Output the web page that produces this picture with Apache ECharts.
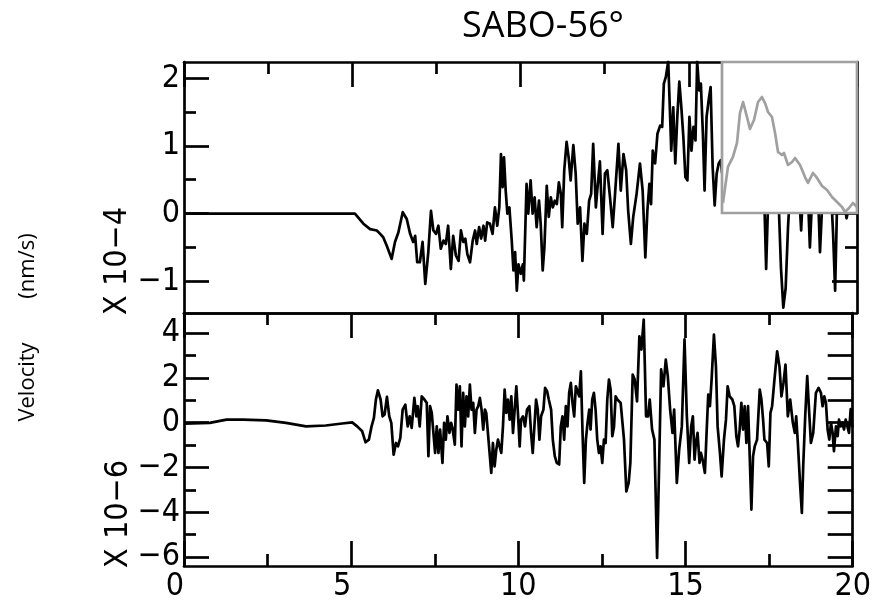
<!DOCTYPE html>
<html><head><meta charset="utf-8">
<script src="https://cdn.jsdelivr.net/npm/echarts@6/dist/echarts.min.js"></script>
<style>html,body{margin:0;padding:0;background:#fff}#c{width:874px;height:605px}</style>
</head><body><div id="c"></div>
<script>
const titleText = 'SABO-56°';
const yTitleWord = 'Velocity';
const yTitleUnit = '(nm/s)';
const topScale = 'X 10−4';
const botScale = 'X 10−6';
const xRange = [0, 20];
const topRange = [-1.47, 2.24];
const botRange = [-6.4, 4.89];
const topMajor = [-1, 0, 1, 2];
const topMinor = [-0.5, 0.5, 1.5];
const botMajor = [-6, -4, -2, 0, 2, 4];
const botMinor = [-5, -3, -1, 1, 3];
const botRightTicks = [-6, -5, -4, -3, -2, -1, 0, 1, 2, 3, 4];

const topTrace = [[0,0],[1,0],[2,0],[3,0],[4,0],[5.08,0],
[5.33,-0.15],[5.53,-0.23],[5.73,-0.25],[5.83,-0.30],[5.92,-0.35],[6.02,-0.47],[6.17,-0.67],[6.27,-0.42],[6.37,-0.28],
[6.50,0.02],[6.62,-0.08],[6.72,-0.30],[6.81,-0.42],[6.87,-0.33],[6.93,-0.72],[7.01,-0.72],[7.09,-0.42],[7.17,-1.04],[7.26,-0.57],
[7.34,0.04],[7.41,-0.25],[7.49,-0.30],[7.56,-0.18],[7.63,-0.52],[7.71,-0.40],[7.78,-0.45],[7.85,-0.18],[7.93,-0.82],[8.00,-0.33],
[8.08,-0.62],[8.16,-0.70],[8.23,-0.25],[8.30,-0.42],[8.36,-0.37],[8.42,-0.60],[8.50,-0.72],[8.58,-0.40],[8.65,-0.25],[8.70,-0.45],
[8.77,-0.20],[8.83,-0.37],[8.90,-0.18],[8.95,-0.40],[9.01,-0.13],[9.09,-0.15],[9.17,-0.30],[9.24,0.09],[9.31,-0.18],[9.37,0.09],
[9.42,0.88],[9.47,0.39],[9.51,0.83],[9.56,0.34],[9.61,0],[9.67,0.09],[9.74,-0.40],[9.79,-0.84],[9.84,-0.57],[9.89,-1.14],
[9.94,-0.75],[10.01,-0.89],[10.07,-0.75],[10.10,-0.99],[10.18,0.44],[10.23,0],[10.30,0.49],[10.36,0],[10.42,0.24],[10.48,-0.20],
[10.55,0.19],[10.60,-0.15],[10.66,-0.84],[10.71,-0.50],[10.78,0.41],[10.84,-0.05],[10.90,0.24],[10.96,0.09],[11.02,0.19],[11.08,0.14],
[11.14,0.46],[11.20,0.29],[11.24,-0.20],[11.30,0.64],[11.37,1.06],[11.43,0.83],[11.49,0.49],[11.57,1.01],[11.64,0.59],[11.70,-0.15],
[11.77,0.09],[11.84,-0.70],[11.90,-0.15],[11.97,-0.30],[12.04,0.19],[12.10,0.29],[12.16,1.03],[12.24,0.09],[12.29,0.39],[12.36,0.77],
[12.44,-0.30],[12.51,0.59],[12.58,0.64],[12.66,0.24],[12.74,-0.20],[12.81,0.29],[12.91,1.03],[12.98,0.34],[13.06,0.88],[13.14,0.64],
[13.20,0.04],[13.28,-0.45],[13.35,-0.05],[13.45,0.29],[13.55,0.74],[13.63,0.34],[13.71,-0.65],[13.77,0.04],[13.83,0.44],[13.88,0.14],
[13.93,0.93],[14.00,0.74],[14.07,1.18],[14.15,1.30],[14.21,1.28],[14.26,1.92],[14.32,2.02],[14.39,2.25],[14.44,1.53],[14.48,0.93],
[14.54,1.57],[14.60,0.74],[14.66,1.43],[14.72,1.95],[14.78,1.57],[14.84,1.13],[14.90,0.54],[14.96,0.49],[15.02,1.43],[15.08,0.93],
[15.14,1.28],[15.20,1.08],[15.25,2.25],[15.31,1.82],[15.36,1.92],[15.42,1.18],[15.47,0.34],[15.53,1.43],[15.59,1.67],[15.65,1.87],
[15.71,0.69],[15.77,0.12],[15.83,0.59],[15.89,0.74],[15.95,0.79],
[15.99,0.6],[16.11,1.2],[16.23,0.5],[16.35,1.5],[16.46,0.8],[16.58,1.3],[16.70,0.4],[16.82,1.0],[16.94,0.6],[17.06,0.9],
[17.18,0.2],[17.24,0.3],[17.30,-0.82],[17.36,0.2],[17.47,0.8],[17.59,0.5],[17.68,0.05],[17.74,-0.8],[17.81,-1.39],[17.88,-1.1],
[17.95,-0.2],[18.04,0.6],[18.16,0.9],[18.28,0.3],[18.34,-0.25],[18.40,0.4],[18.51,0.7],[18.60,-0.5],[18.69,0.5],[18.81,0.8],
[18.90,-0.57],[18.99,0.4],[19.11,0.9],[19.23,0.3],[19.29,-0.3],[19.35,-1.14],[19.41,0.2],[19.52,0.6],[19.61,0.2],[19.69,-0.07],
[19.76,0.1],[19.88,0.05],[20,0]];

const botTrace = [[0,-0.05],[0.77,-0.01],[1.27,0.13],[1.76,0.13],[2.46,0.10],[3.05,-0.01],[3.65,-0.17],[4.24,-0.13],[4.73,-0.04],[5.03,0.01],
[5.18,-0.17],[5.33,-0.39],[5.43,-0.88],[5.53,-0.76],[5.61,-0.17],[5.68,0.21],[5.74,1.03],[5.80,1.44],[5.88,1.03],[5.94,0.28],
[6.00,0.36],[6.07,1.15],[6.14,0.28],[6.20,-0.01],[6.27,-1.43],[6.34,-0.91],[6.40,-1.06],[6.47,-0.68],[6.54,0.58],[6.62,0.80],
[6.69,-0.17],[6.75,0.28],[6.81,-0.24],[6.89,1.10],[6.95,0.28],[6.99,0.73],[7.05,-0.17],[7.11,1.17],[7.19,1.03],[7.26,0.88],
[7.31,-1.50],[7.36,0.73],[7.41,0.43],[7.46,-0.46],[7.51,-1.35],[7.56,-0.17],[7.61,-1.35],[7.66,-0.31],[7.73,-1.80],[7.78,-0.01],
[7.83,-0.76],[7.88,0.28],[7.94,-0.46],[7.99,-0.01],[8.03,-0.24],[8.10,-0.98],[8.15,1.70],[8.20,0.58],[8.25,1.62],[8.30,-1.06],
[8.35,1.33],[8.40,-0.17],[8.45,1.17],[8.50,0.28],[8.55,1.70],[8.60,0.58],[8.65,0.88],[8.70,-0.46],[8.75,0.58],[8.80,0.73],
[8.85,1.10],[8.90,0.58],[8.95,-0.31],[9.00,0.58],[9.04,0.43],[9.09,-0.46],[9.14,-0.46],[9.19,-2.25],[9.24,-0.91],[9.29,-1.95],
[9.34,-1.21],[9.39,-0.76],[9.44,-1.06],[9.49,-1.35],[9.54,-0.17],[9.59,1.47],[9.64,0.43],[9.69,1.03],[9.74,0.13],[9.79,1.17],
[9.84,-0.46],[9.89,0.58],[9.94,1.62],[9.99,0.36],[10.04,-1.06],[10.08,0.13],[10.14,0.28],[10.20,-0.17],[10.26,0.58],[10.33,0.73],
[10.38,-0.46],[10.43,-1.35],[10.48,-0.17],[10.53,1.03],[10.58,0.58],[10.63,-0.76],[10.68,0.28],[10.75,0.58],[10.80,1.55],[10.86,1.40],
[10.91,1.03],[10.98,0.58],[11.03,-0.76],[11.09,-1.50],[11.15,-1.80],[11.22,-1.87],[11.27,-0.17],[11.32,0.28],[11.37,-0.76],[11.42,0.73],
[11.47,-0.17],[11.52,1.33],[11.57,1.77],[11.62,0.88],[11.67,0.28],[11.72,1.62],[11.77,1.70],[11.82,1.17],[11.87,2.29],[11.92,-0.46],
[11.97,-2.69],[12.02,-0.76],[12.07,-0.01],[12.12,0.58],[12.16,-0.31],[12.21,1.03],[12.26,1.33],[12.31,0.58],[12.36,-0.76],[12.41,-1.35],
[12.46,-1.06],[12.51,-1.80],[12.56,-0.76],[12.61,-0.91],[12.66,1.03],[12.71,1.92],[12.76,1.47],[12.81,-0.61],[12.86,-0.20],[12.91,1.17],
[12.96,1.03],[13.06,0.88],[13.16,-0.76],[13.23,-3.07],[13.30,-2.69],[13.35,-1.80],[13.42,2.14],[13.48,1.92],[13.55,0.95],[13.62,3.85],
[13.68,3.26],[13.75,4.60],[13.82,0.28],[13.88,0.28],[13.93,1.03],[14.00,-0.31],[14.07,-0.76],[14.15,-6.04],[14.21,-1.95],[14.27,2.37],
[14.34,1.62],[14.41,2.81],[14.47,2.07],[14.54,0.58],[14.61,-0.46],[14.66,0.58],[14.74,-2.69],[14.81,-1.21],[14.89,-0.17],[14.97,3.71],
[15.04,0.28],[15.11,-1.80],[15.17,-0.17],[15.22,0.28],[15.27,-1.65],[15.31,-0.91],[15.36,-0.46],[15.42,-1.80],[15.46,-1.35],[15.51,-1.65],
[15.58,-2.25],[15.63,-0.46],[15.68,1.25],[15.73,0.73],[15.78,1.92],[15.85,3.93],[15.91,2.51],[15.96,-0.17],[16.03,-1.35],[16.08,-2.40],
[16.15,-0.76],[16.21,0.13],[16.26,1.62],[16.32,1.17],[16.40,1.03],[16.46,0.73],[16.52,-0.61],[16.57,-1.06],[16.62,-0.31],[16.67,0.88],
[16.72,-0.31],[16.77,0.73],[16.82,-0.91],[16.87,0.73],[16.92,-1.50],[16.97,-3.88],[17.02,-1.50],[17.07,-1.06],[17.14,-0.76],[17.22,1.47],
[17.27,1.03],[17.32,0.13],[17.36,-0.76],[17.44,-0.91],[17.49,-1.95],[17.54,0.43],[17.59,0.73],[17.66,1.92],[17.74,3.18],[17.81,2.51],
[17.87,1.17],[17.93,1.77],[17.99,2.59],[18.06,0.28],[18.13,1.03],[18.21,-0.01],[18.27,-0.46],[18.31,0.28],[18.36,-0.91],[18.43,-2.84],
[18.48,-4.03],[18.52,-1.95],[18.58,0.28],[18.64,2.07],[18.70,0.43],[18.75,-0.91],[18.82,-0.46],[18.90,1.33],[18.98,1.55],[19.05,1.33],
[19.10,0.73],[19.15,1.17],[19.20,0.88],[19.25,-0.31],[19.30,-0.76],[19.35,-0.01],[19.40,-0.46],[19.44,-1.28],[19.50,-0.17],[19.55,-0.61],
[19.59,0.13],[19.64,-0.17],[19.69,-0.01],[19.74,-0.31],[19.79,0.13],[19.84,-0.17],[19.89,-0.46],[19.94,0.6],[19.99,-0.2]];

const insetTrace = [[0.7,6.6],[4.4,30.5],[8.1,37.1],[11.1,46.4],[13.3,66.2],[15.6,73.5],[18.5,63.6],[20.7,55.6],[23.7,61.6],[26.7,73.5],
[29.6,76.8],[31.9,72.8],[34.1,66.9],[37.0,63.6],[39.3,53.0],[41.5,40.4],[44.4,38.4],[45.9,39.7],[48.9,31.8],[51.9,33.8],
[54.1,36.4],[57.8,31.8],[61.5,23.8],[63.7,19.9],[67.4,26.5],[70.4,23.2],[74.1,17.9],[77.8,15.2],[81.5,10.6],[85.2,7.3],
[88.9,4.0],[91.1,0.7],[94.1,3.3],[97.0,6.6],[100,4.0]];

const F = "'Liberation Sans Narrow','DejaVu Sans Condensed','Liberation Sans',sans-serif";
const SANS = "'Open Sans','Noto Sans',sans-serif";
const LW = 2.7;
const black = '#000';
const fmtNum = v => String(v).replace('-', '\u2212');

function xAx(grid, pos, opts) {
  return Object.assign({
    type: 'value', gridIndex: grid, position: pos, min: xRange[0], max: xRange[1], interval: 5,
    axisLine: { show: true, onZero: false, lineStyle: { color: black, width: LW } },
    axisTick: { show: true, inside: true, length: 25, lineStyle: { color: black, width: LW } },
    minorTick: { show: true, splitNumber: 2, length: 12, lineStyle: { color: black, width: LW } },
    axisLabel: { show: false }, splitLine: { show: false }, minorSplitLine: { show: false }
  }, opts || {});
}
function yAx(grid, pos, range, ticks, len, showLine, labels) {
  return {
    type: 'value', gridIndex: grid, position: pos, min: range[0], max: range[1],
    axisLine: { show: showLine, onZero: false, lineStyle: { color: black, width: LW } },
    axisTick: { show: true, inside: true, length: len, customValues: ticks, lineStyle: { color: black, width: LW } },
    axisLabel: labels ? { show: true, customValues: ticks, formatter: fmtNum, fontFamily: F, fontSize: 32, color: black, margin: 4 } : { show: false },
    splitLine: { show: false }
  };
}

const chart = echarts.init(document.getElementById('c'), null, { renderer: 'canvas' });
chart.setOption({
  animation: false,
  backgroundColor: '#fff',
  grid: [
    { left: 184, top: 62, width: 673, height: 251 },
    { left: 184, top: 313, width: 673, height: 253 },
    { left: 722, top: 62, width: 135, height: 151, show: true, backgroundColor: '#fff', borderColor: '#a0a0a0', borderWidth: 2.7, z: 10 }
  ],
  xAxis: [
    xAx(0, 'bottom', { axisTick: { show: false }, minorTick: { show: false } }),
    xAx(0, 'top'),
    xAx(1, 'bottom', { axisLabel: { show: true, margin: 5, color: black,
        formatter: v => (v < 10 ? '{s|' + v + '}' : '{d|' + v + '}'),
        rich: { s: { fontFamily: F, fontSize: 32, color: black, padding: [0, 18, 0, 0] },
                d: { fontFamily: F, fontSize: 32, color: black } } } }),
    xAx(1, 'top'),
    { type: 'value', gridIndex: 2, min: 0, max: 100, show: false }
  ],
  yAxis: [
    yAx(0, 'left', topRange, topMajor, 25, true, true),
    yAx(0, 'left', topRange, topMinor, 12, false, false),
    yAx(0, 'right', topRange, topMajor, 25, true, false),
    yAx(0, 'right', topRange, topMinor, 12, false, false),
    yAx(1, 'left', botRange, botMajor, 25, true, true),
    yAx(1, 'left', botRange, botMinor, 12, false, false),
    yAx(1, 'right', botRange, botRightTicks, 25, true, false),
    { type: 'value', gridIndex: 2, min: 0, max: 100, show: false }
  ],
  series: [
    { type: 'line', xAxisIndex: 0, yAxisIndex: 0, data: topTrace, symbol: 'none', clip: true,
      lineStyle: { color: black, width: LW, join: 'round' }, z: 3 },
    { type: 'line', xAxisIndex: 2, yAxisIndex: 4, data: botTrace, symbol: 'none', clip: true,
      lineStyle: { color: black, width: LW, join: 'round' }, z: 3 },
    { type: 'line', xAxisIndex: 4, yAxisIndex: 7, data: insetTrace, symbol: 'none', clip: true,
      lineStyle: { color: '#a0a0a0', width: LW, join: 'round' }, z: 12 }
  ],
  graphic: [
    { type: 'text', x: 543, y: 27, style: { text: titleText, fontFamily: SANS, fontSize: 36, fill: black, textAlign: 'center', textVerticalAlign: 'middle' } },
    { type: 'text', x: 28, y: 382, rotation: Math.PI / 2, style: { text: yTitleWord, fontFamily: SANS, fontSize: 22, fill: black, textAlign: 'center', textVerticalAlign: 'middle' } },
    { type: 'text', x: 28, y: 266, rotation: Math.PI / 2, style: { text: yTitleUnit, fontFamily: SANS, fontSize: 22, fill: black, textAlign: 'center', textVerticalAlign: 'middle' } },
    { type: 'text', x: 118, y: 261, rotation: Math.PI / 2, style: { text: topScale, fontFamily: F, fontSize: 32, fill: black, textAlign: 'center', textVerticalAlign: 'middle' } },
    { type: 'text', x: 119, y: 514, rotation: Math.PI / 2, style: { text: botScale, fontFamily: F, fontSize: 32, fill: black, textAlign: 'center', textVerticalAlign: 'middle' } }
  ]
});
</script></body></html>
